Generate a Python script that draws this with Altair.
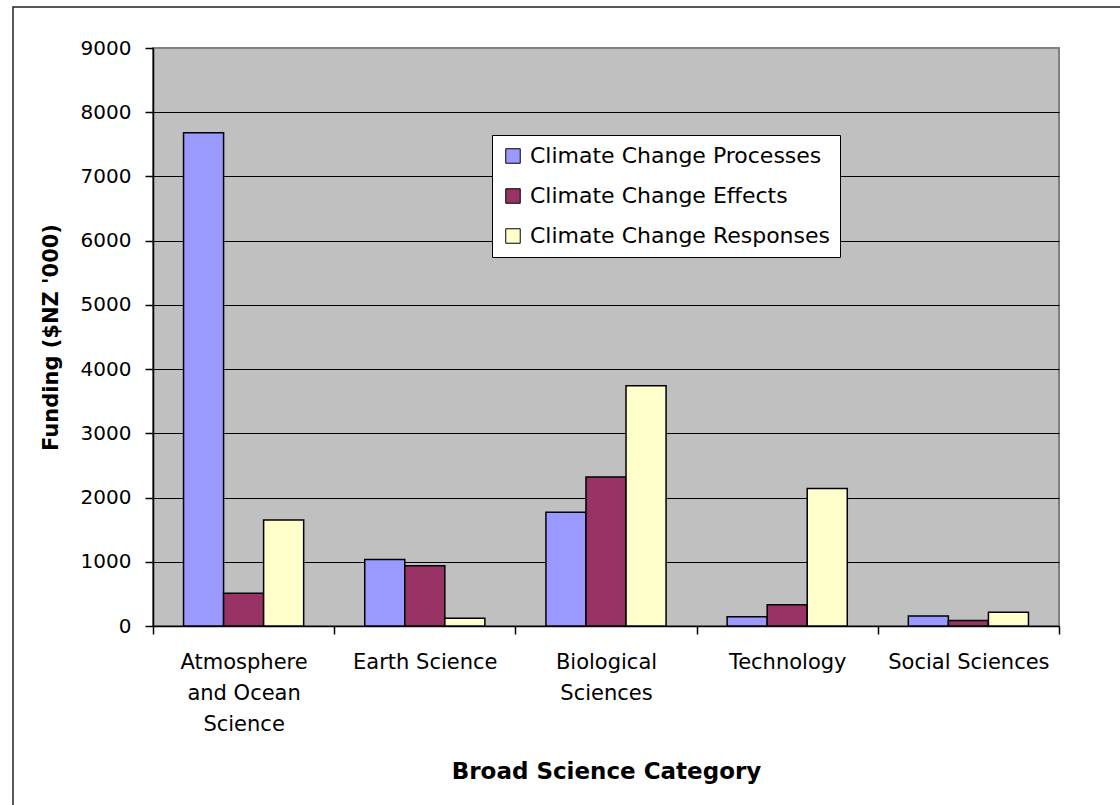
import altair as alt
import pandas as pd

categories = ["Atmosphere and Ocean Science", "Earth Science", "Biological Sciences",
              "Technology", "Social Sciences"]
series = ["Climate Change Processes", "Climate Change Effects", "Climate Change Responses"]
processes = [7680, 1035, 1770, 145, 155]
effects = [510, 940, 2320, 330, 85]
responses = [1650, 120, 3740, 2140, 215]
colors = ["#9999FF", "#993366", "#FFFFCC"]
y_ticks = [0, 1000, 2000, 3000, 4000, 5000, 6000, 7000, 8000, 9000]

rows = []
for i, c in enumerate(categories):
    for s, vals in zip(series, [processes, effects, responses]):
        rows.append({"category": c, "series": s, "value": vals[i]})
df = pd.DataFrame(rows)

label_expr = ("datum.value == 'Atmosphere and Ocean Science' ? ['Atmosphere', 'and Ocean', 'Science'] : "
              "datum.value == 'Biological Sciences' ? ['Biological', 'Sciences'] : datum.value")

FONT = "DejaVu Sans"

bars = alt.Chart(df).mark_bar(stroke="black", strokeWidth=1.5, opacity=1).encode(
    x=alt.X("category:N", sort=categories,
            scale=alt.Scale(paddingInner=0, paddingOuter=0),
            axis=alt.Axis(title="Broad Science Category", labelAngle=0, labelExpr=label_expr,
                          tickBand="extent", tickSize=8, tickColor="black", tickWidth=1.5,
                          domainColor="black", domainWidth=1.5, grid=False,
                          labelFont=FONT, labelFontSize=21, labelColor="black",
                          labelLineHeight=31, labelPadding=17, labelBaseline="top",
                          labelLimit=0,
                          titleFont=FONT, titleFontSize=23, titleFontWeight="bold",
                          titleColor="black", titleY=152, titleBaseline="alphabetic")),
    xOffset=alt.XOffset("series:N", sort=series,
                        scale=alt.Scale(paddingInner=0, paddingOuter=0.7625)),
    y=alt.Y("value:Q", scale=alt.Scale(domain=[0, 9000], nice=False),
            axis=alt.Axis(values=y_ticks, format="d", title="Funding ($NZ '000)", grid=True,
                          gridColor={"condition": {"test": "datum.value === 9000", "value": "#808080"},
                                     "value": "black"},
                          gridWidth=1.2,
                          tickSize=8, tickColor="black", tickWidth=1.5,
                          domainColor="black", domainWidth=1.5,
                          labelFont=FONT, labelFontSize=20, labelColor="black", labelPadding=14,
                          titleFont=FONT, titleFontSize=21, titleFontWeight="bold",
                          titleColor="black", titleX=-96, titleY=289, titleAlign="center",
                          titleAngle=270, titleBaseline="alphabetic")),
    color=alt.Color("series:N", sort=series,
                    scale=alt.Scale(domain=series, range=colors),
                    legend=alt.Legend(title=None, orient="none", legendX=339, legendY=87,
                                      fillColor="white", strokeColor="black", padding=10,
                                      symbolType="square", symbolSize=210,
                                      symbolStrokeColor="black", symbolStrokeWidth=1,
                                      symbolOpacity=1, labelLimit=0,
                                      labelFont=FONT, labelFontSize=22, labelColor="black",
                                      rowPadding=18, labelOffset=6)),
)

frame = alt.Chart(pd.DataFrame({"f": [0]})).mark_rect(
    fillOpacity=0, stroke="#222222", strokeWidth=1.5
).encode(x=alt.value(-140), x2=alt.value(1300), y=alt.value(-41), y2=alt.value(1000))

chart = alt.layer(frame, bars).properties(
    width=906, height=578,
    autosize=alt.AutoSizeParams(type="none"),
    padding={"left": 153, "top": 48, "right": 61, "bottom": 179},
    background="white",
).configure_view(fill="#C0C0C0", stroke="#808080", strokeWidth=2)

chart.save("out.html", embed_options={"renderer": "svg", "actions": False})
